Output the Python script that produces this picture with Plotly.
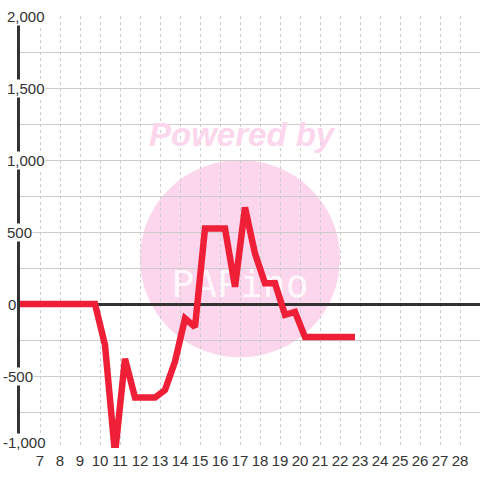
import plotly.graph_objects as go

# ---- data ----
hours = [6.0, 6.25, 6.75, 7.25, 7.75, 8.25, 8.75, 9.25, 9.75, 10.25, 10.75,
         11.25, 11.75, 12.25, 12.75, 13.25, 13.75, 14.25, 14.75, 15.25, 15.75,
         16.25, 16.75, 17.25, 17.75, 18.25, 18.75, 19.25, 19.75, 20.25, 20.75,
         21.25, 21.75, 22.25, 22.75]
values = [0, 0, 0, 0, 0, 0, 0, 0, 0, -285, -1040,
          -380, -650, -650, -650, -597, -400, -100, -160, 525, 525,
          525, 120, 670, 350, 144, 144, -75, -55, -230, -230,
          -230, -230, -230, -230]
x_ticks = list(range(7, 29))
y_ticks = [2000, 1500, 1000, 500, 0, -500, -1000]
y_tick_labels = ["2,000", "1,500", "1,000", "500", "0", "-500", "-1,000"]

RED = "#EE1F36"
PINK = "#FCD6EC"
DARK = "#333333"
GRID = "#CCCCCC"
FONT = "Liberation Sans, Arial, sans-serif"

fig = go.Figure()

# watermark logo text (under the data line)
fig.add_trace(go.Scatter(
    x=[17], y=[118], mode="text", text=["PAPino"],
    textfont=dict(family="DejaVu Sans Mono", size=38, color="rgba(255,255,255,0.85)"),
    hoverinfo="skip", showlegend=False,
))

fig.add_trace(go.Scatter(
    x=hours, y=values, mode="lines",
    line=dict(color=RED, width=6.5),
    hoverinfo="skip", showlegend=False,
))

# pink watermark circle
fig.add_shape(type="circle", xref="x", yref="y", x0=12, x1=22, y0=-370, y1=1000,
              fillcolor=PINK, line=dict(width=0), layer="below")

fig.add_annotation(
    x=17.1, y=1180, xref="x", yref="y", text="<b><i>Powered by</i></b>",
    showarrow=False, font=dict(family=FONT, size=33, color=PINK),
)

for v, lab in zip(y_ticks, y_tick_labels):
    fig.add_annotation(
        x=0, xref="paper", y=v, yref="y", text=lab, showarrow=False,
        xanchor="left", xshift=(-18 if v < 0 else -14) if v != 0 else -13,
        yshift=(6 if v == -1000 else 0),
        font=dict(family=FONT, size=15, color=DARK),
        bgcolor="white", borderpad=0,
    )

fig.update_layout(
    width=480, height=480,
    margin=dict(l=20, r=0, t=16, b=32),
    paper_bgcolor="white", plot_bgcolor="white",
    font=dict(family=FONT, size=15, color=DARK),
    xaxis=dict(
        range=[6, 29], tickvals=x_ticks, ticktext=[str(t) for t in x_ticks],
        showgrid=True, gridcolor=GRID, griddash="3px,3px", gridwidth=1,
        zeroline=False, showline=False, ticks="", ticklabelstandoff=2,
        tickfont=dict(family=FONT, size=15, color=DARK),
    ),
    yaxis=dict(
        range=[-1000, 2000], dtick=250, tick0=0,
        showgrid=True, gridcolor=GRID, gridwidth=1,
        zeroline=True, zerolinecolor=DARK, zerolinewidth=3,
        showline=True, linecolor=DARK, linewidth=3,
        showticklabels=False, ticks="",
    ),
)

fig.write_html("out.html", config={"displayModeBar": False},
               post_script="document.body.style.margin='0';")
